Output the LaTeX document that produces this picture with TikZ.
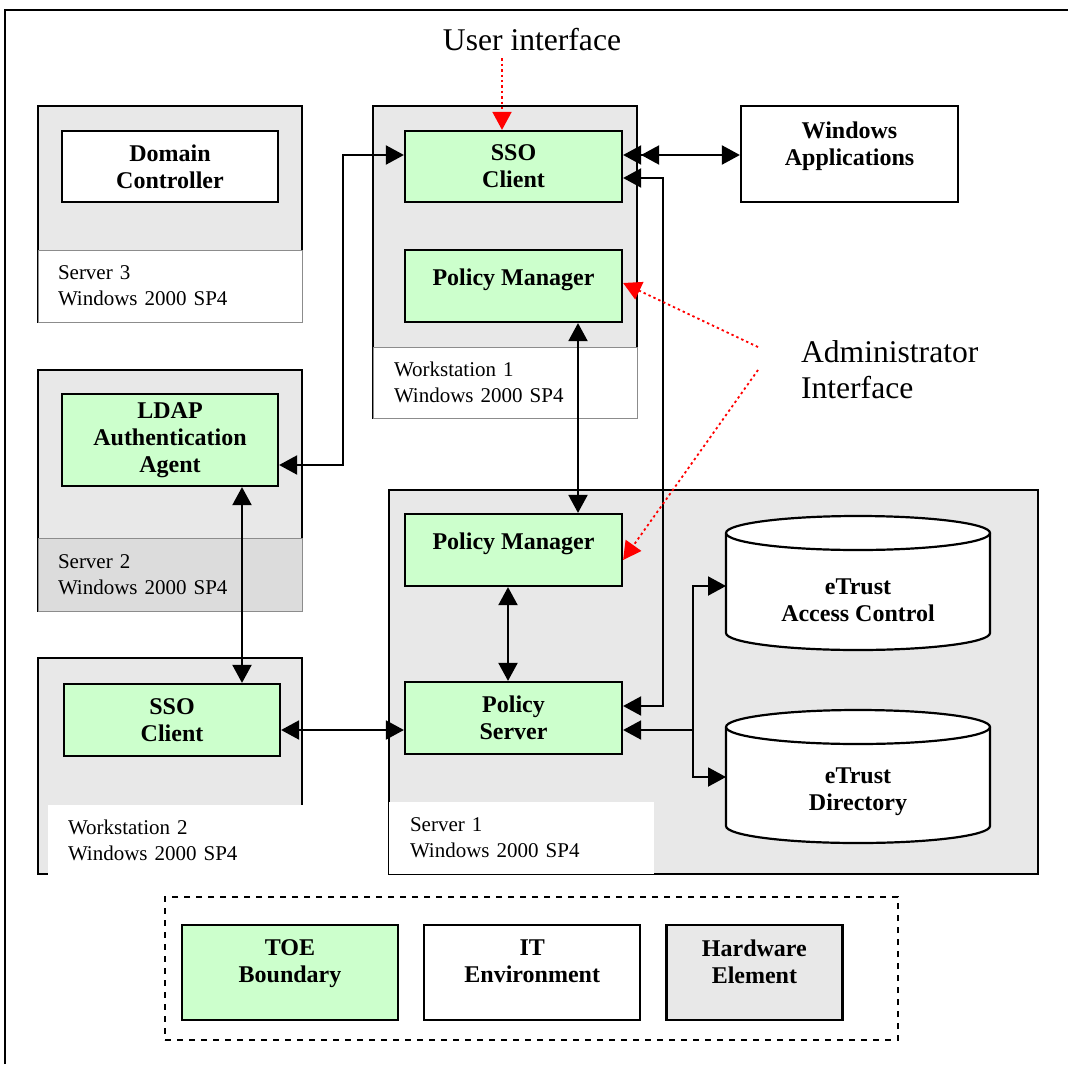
\documentclass[tikz,border=0pt]{standalone}
\usepackage{fontspec}
\setmainfont{Liberation Serif}
\usetikzlibrary{positioning,arrows.meta}

\definecolor{toegreen}{HTML}{CCFFCC}
\definecolor{hwgray}{HTML}{E8E8E8}
\definecolor{taggray}{HTML}{DCDCDC}

\begin{document}
\begin{tikzpicture}[
  x=0.5pt, y=-0.5pt,
  font=\fontsize{10.5}{13}\selectfont,
  >={Triangle[length=9pt,width=9.5pt]},
  hw/.style={draw=black, line width=1.2pt, fill=hwgray, inner sep=0pt},
  comp/.style={draw=black, line width=1.1pt, align=center, inner sep=2pt,
               minimum width=108.5pt, minimum height=36pt,
               font=\fontsize{12}{13.5}\selectfont\bfseries},
  toe/.style={comp, fill=toegreen},
  itenv/.style={comp, fill=white},
  tag/.style={fill=white, draw=black!45, line width=0.5pt, inner xsep=10pt,
              minimum width=132pt, minimum height=36pt, text width=112pt,
              align=left},
  link/.style={<->, line width=1pt},
  admin/.style={->, red, line width=0.9pt, dash pattern=on 1.2pt off 1.5pt},
  big/.style={font=\fontsize{15.8}{18}\selectfont},
]
  \useasboundingbox (0,0) rectangle (1068,1064);
  % outer frame
  \draw[line width=1.2pt] (5,1064) |- (1068,10);

  % Server 3
  \node[hw, minimum width=132pt, minimum height=108pt] (srv3) at (170,214) {};
  \node[tag] (srv3tag) at (170,286) {Server 3\\Windows 2000 SP4};
  \node[itenv, minimum width=108pt, minimum height=35.5pt] (dc) at (170,166.5)
    {Domain\\Controller};

  % Server 2
  \node[hw, minimum width=132pt, minimum height=120.5pt] (srv2) at (170,490.5) {};
  \node[tag, fill=taggray, minimum height=36.5pt] (srv2tag) at (170,574.5)
    {Server 2\\Windows 2000 SP4};
  \node[toe, minimum width=108pt, minimum height=46pt] (ldap) at (170,440)
    {LDAP\\Authentication\\Agent};

  % Workstation 2
  \node[hw, minimum width=132pt, minimum height=108pt] (ws2) at (170,766) {};
  \node[tag, draw=none, minimum width=128pt, minimum height=35.5pt,
        text width=108pt] (ws2tag) at (176,840.5) {Workstation 2\\Windows 2000 SP4};
  \node[toe, minimum width=108pt] (ssob) at (172,720) {SSO\\Client};

  % Workstation 1
  \node[hw, minimum width=132pt, minimum height=156pt] (ws1) at (505,262) {};
  \node[tag, inner xsep=10.5pt, text width=111pt, minimum height=35.5pt]
    (ws1tag) at (505,382.5) {Workstation 1\\Windows 2000 SP4};
  \node[toe, minimum height=35.5pt] (ssoa) at (513.5,166.5) {SSO\\Client};
  \node[toe, text depth=8.7pt] (pma) at (513.5,286) {Policy Manager};

  \node[itenv, minimum height=48pt, text depth=10pt] (winapp) at (849.5,154)
    {Windows\\Applications};

  % Server 1
  \node[hw, minimum width=324.5pt, minimum height=192pt] (srv1) at (713.5,682) {};
  \node[tag, draw=none, inner xsep=10.5pt, minimum width=132.5pt, text width=111.5pt]
    (srv1tag) at (521.5,838) {Server 1\\Windows 2000 SP4};
  \draw[line width=0.6pt] (srv1tag.south west) -- (srv1tag.south east);
  \node[toe, text depth=8.7pt] (pmb) at (513.5,550) {Policy Manager};
  \node[toe] (ps) at (513.5,718) {Policy\\Server};

  % databases
  \draw[line width=1.1pt, fill=white] (726,533) -- (726,633)
    arc[start angle=180, end angle=360, x radius=66pt, y radius=8.5pt]
    -- (990,533) arc[start angle=0, end angle=180, x radius=66pt, y radius=8.5pt]
    -- cycle;
  \draw[line width=1.1pt] (990,533)
    arc[start angle=0, end angle=-180, x radius=66pt, y radius=8.5pt];
  \draw[line width=1.1pt, fill=white] (726,727) -- (726,826)
    arc[start angle=180, end angle=360, x radius=66pt, y radius=8.5pt]
    -- (990,727) arc[start angle=0, end angle=180, x radius=66pt, y radius=8.5pt]
    -- cycle;
  \draw[line width=1.1pt] (990,727)
    arc[start angle=0, end angle=-180, x radius=66pt, y radius=8.5pt];
  \node[align=center, font=\fontsize{12}{13.5}\selectfont\bfseries] (etac)
    at (858,600) {eTrust\\Access Control};
  \node[align=center, font=\fontsize{12}{13.5}\selectfont\bfseries] (etdir)
    at (858,792) {eTrust\\Directory};
  \coordinate (etacin) at (726,586);
  \coordinate (etdirin) at (726,777);
  \coordinate (fork) at (693,730);

  % connectors
  \draw[link] ([yshift=-12.5pt]ldap.east) -- ++(32pt,0) |- ([yshift=5.75pt]ssoa.west);
  \draw[{Triangle[length=9pt,width=9.5pt] Triangle[length=9pt,width=9.5pt]}-{Triangle[length=9pt,width=9.5pt]}, line width=1pt]
    ([yshift=5.75pt]ssoa.east) -- ([yshift=5.75pt]ssoa.east -| winapp.west);
  \draw[link] ([yshift=6pt]ps.east) -- ++(20pt,0) |- ([yshift=-5.75pt]ssoa.east);
  \draw[link] ([xshift=32.25pt]pma.south) -- ([xshift=32.25pt]pmb.north);
  \draw[link] ([xshift=-2.75pt]pmb.south) -- ([xshift=-2.75pt]ps.north);
  \draw[link] ([xshift=36pt]ldap.south) -- ([xshift=36pt]ldap.south |- ssob.north);
  \draw[link] ([yshift=-5pt]ssob.east) -- ([yshift=-5pt]ssob.east -| ps.west);
  \draw[<-, line width=1pt] ([yshift=-6pt]ps.east) -- ([yshift=-6pt]ps.east -| fork);
  \draw[link] (etacin) -- (etacin -| fork) -- (etdirin -| fork) -- (etdirin);

  % interfaces
  \node[big] (ui) at (532,40) {User interface};
  \draw[admin] ([xshift=-5.75pt]ssoa.north |- ui.south) -- ([xshift=-5.75pt]ssoa.north);
  \node[big, anchor=west, align=left] (adm) at (794,370) {Administrator\\Interface};
  \draw[admin] ([xshift=-18pt,yshift=11.5pt]adm.west) -- ([yshift=1.5pt]pma.east);
  \draw[admin] ([xshift=-18pt]adm.west) -- ([yshift=-5pt]pmb.east);

  % legend
  \node[draw, dashed, line width=0.8pt, minimum width=366.5pt, minimum height=71.5pt]
    (legend) at (531.5,968.5) {};
  \node[toe, minimum width=108pt, minimum height=47.5pt, text depth=11pt]
    (legtoe) at (290,972.5) {TOE\\Boundary};
  \node[itenv, minimum width=108pt, minimum height=47.5pt, text depth=11pt,
        right=12pt of legtoe] (legit) {IT\\Environment};
  \node[comp, fill=hwgray, minimum width=88pt, minimum height=47.5pt, text depth=11pt,
        right=12pt of legit] (leghw) {Hardware\\Element};
\end{tikzpicture}
\end{document}
